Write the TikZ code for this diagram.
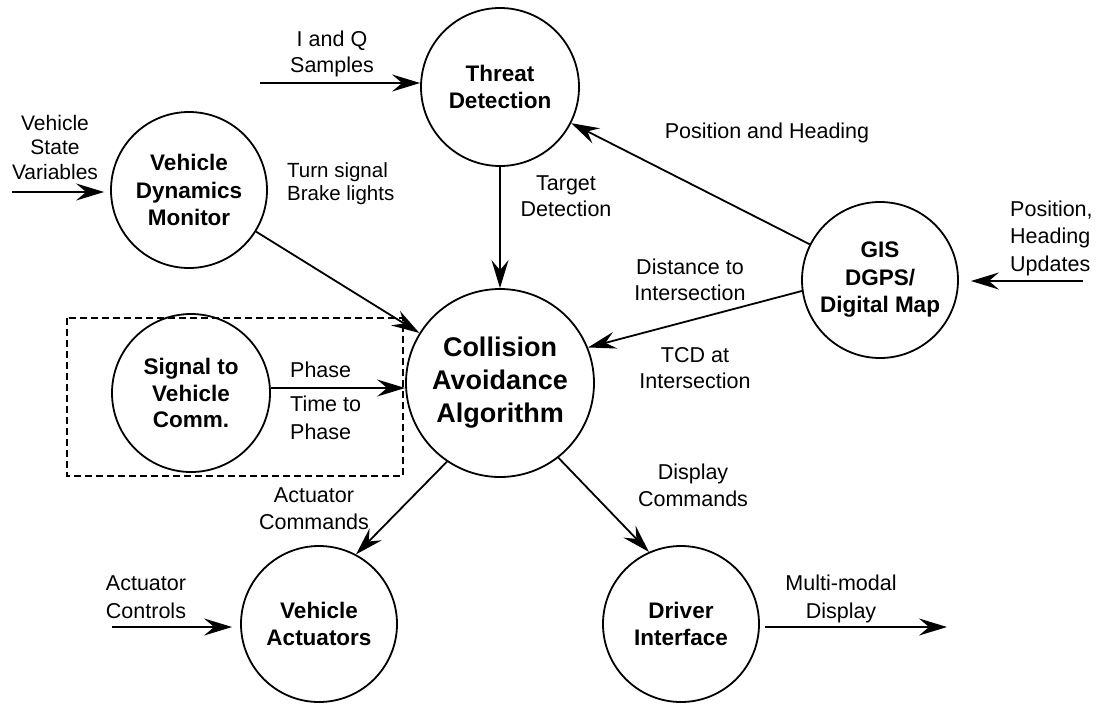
\documentclass[tikz,border=0pt]{standalone}
\usepackage{fontspec}
\setmainfont{Liberation Sans}
\usetikzlibrary{arrows.meta}
\begin{document}
\begin{tikzpicture}[x=1pt,y=-1pt,
  proc/.style={circle,draw,line width=1.8pt,inner sep=0pt,align=center,
    font=\fontsize{22.5}{27.5}\selectfont\bfseries},
  lbl/.style={inner sep=0pt,align=center,font=\fontsize{21.5}{26}\selectfont},
  arr/.style={line width=1.8pt,-{Stealth[length=28pt,width=17pt,inset=10pt]}},
  dashbox/.style={draw,line width=1.3pt,dash pattern=on 7pt off 4pt}]
\useasboundingbox[fill=white] (0,0) rectangle (1102,704);
% dashed grouping box
\draw[dashbox] (67,318) rectangle (403,476);
% processes
\node[proc,minimum size=158pt] (threat) at (500,87) {Threat\\Detection};
\node[proc,minimum size=188pt,font=\fontsize{27}{33}\selectfont\bfseries] (caa) at (500,383) {Collision\\Avoidance\\Algorithm};
\node[proc,minimum size=156pt] (gis) at (880,280) {GIS\\DGPS/\\Digital Map};
\node[proc,minimum size=156pt] (vdm) at (189,190) {Vehicle\\Dynamics\\Monitor};
\node[proc,minimum size=158pt,font=\fontsize{22.5}{26.5}\selectfont\bfseries] (sig) at (191,393) {Signal to\\Vehicle\\Comm.};
\node[proc,minimum size=156pt] (act) at (319,624) {Vehicle\\Actuators};
\node[proc,minimum size=156pt] (drv) at (681,624) {Driver\\Interface};
% labels
\node[lbl] (iq) at (332,54) {I and Q\\Samples};
\node[lbl,font=\fontsize{21}{24.5}\selectfont] (vsv) at (55,147) {Vehicle\\State\\Variables};
\node[lbl,anchor=west,align=left,font=\fontsize{20.5}{23}\selectfont] (turn) at (287,184) {Turn signal\\Brake lights};
\node[lbl] (target) at (566,196) {Target\\Detection};
\node[lbl] (posh) at (767,133) {Position and Heading};
\node[lbl,anchor=west,align=left,font=\fontsize{21.5}{27.5}\selectfont] (posupd) at (1010,238) {Position,\\Heading\\Updates};
\node[lbl] (dist) at (690,280) {Distance to\\Intersection};
\node[lbl] (tcd) at (695,368) {TCD at\\Intersection};
\node[lbl,anchor=west] (phase) at (290,370) {Phase};
\node[lbl,anchor=west,align=left,font=\fontsize{21.5}{28}\selectfont] (ttp) at (290,418) {Time to\\Phase};
\node[lbl,font=\fontsize{21.5}{27}\selectfont] (actcmd) at (314,509) {Actuator\\Commands};
\node[lbl,font=\fontsize{21.5}{27}\selectfont] (dispcmd) at (693,485) {Display\\Commands};
\node[lbl,font=\fontsize{21.5}{28}\selectfont] (actctl) at (146,597) {Actuator\\Controls};
\node[lbl,font=\fontsize{21.5}{28}\selectfont] (mmd) at (841,599) {Multi-modal\\Display};
% free ends
\coordinate (iqs) at (260,83);
\coordinate (vsvs) at (12,192);
\coordinate (sigy) at (191,388);
\coordinate (acs) at (112,627);
\coordinate (mmo) at (947,627);
\coordinate (gisin) at (1083,281);
% connectors
\draw[arr] (iqs) -- (iqs -| threat.west);
\draw[arr,shorten >=6pt] (vsvs) -- (vsvs -| vdm.west);
\draw[arr] (vdm) -- (caa);
\draw[arr] (threat) -- (caa);
\draw[arr] (gis) -- (threat);
\draw[arr] (gis.188) -- (caa.22);
\draw[arr] (sigy -| sig.east) -- (sigy -| caa.west);
\draw[arr] (caa.236) -- (act.62);
\draw[arr] (caa.308) -- (drv.114);
\draw[arr,shorten >=8pt] (acs) -- (acs -| act.west);
\draw[arr,shorten <=5pt] (mmo -| drv.east) -- (mmo);
\draw[arr,shorten >=12pt] (gisin) -- (gisin -| gis.east);
\end{tikzpicture}
\end{document}
